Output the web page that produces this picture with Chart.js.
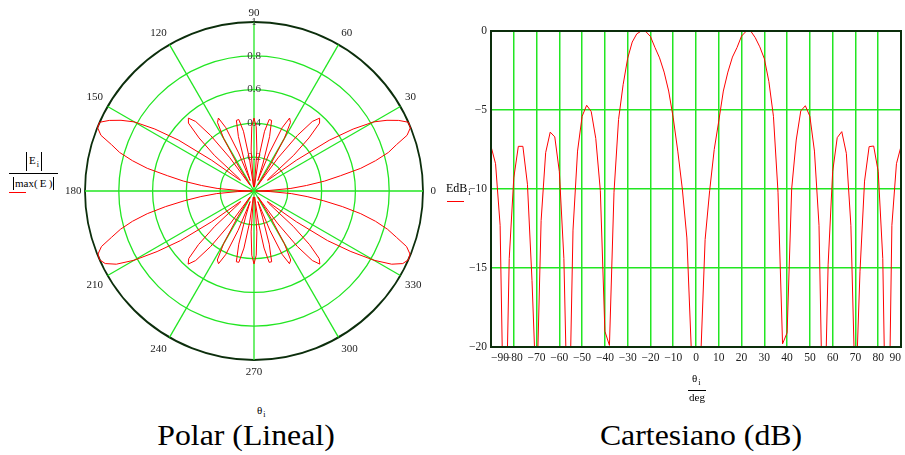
<!DOCTYPE html>
<html>
<head>
<meta charset="utf-8">
<script src="https://cdn.jsdelivr.net/npm/chart.js@4.4.1/dist/chart.umd.min.js"></script>
<style>
  body { margin: 0; width: 905px; height: 455px; background: #fff; position: relative; overflow: hidden;
         font-family: "Liberation Serif", "Times New Roman", serif; color: #000; }
  canvas { position: absolute; }
  #polar { left: 61px; top: 2px; }
  #cart { left: 440px; top: 0; }
  .t { position: absolute; white-space: nowrap; font-size: 11px; line-height: 11px; }
  .t .sub { font-size: 8px; position: relative; top: 3px; margin-left: 1px; }
  .abs { border-left: 1px solid #000; border-right: 1px solid #000; }
  .rule { position: absolute; height: 1px; background: #000; }
  .red { position: absolute; height: 1px; background: #ff0000; }
  .title { position: absolute; width: 320px; text-align: center; font-size: 30px; line-height: 30px; transform: scaleX(1.06); }
</style>
</head>
<body>
<canvas id="polar" width="379" height="379"></canvas>
<canvas id="cart" width="465" height="380"></canvas>

<!-- polar axis label |E_i| / |max(E)| -->
<div class="t abs" style="left:26px;top:152px;height:19px;padding:0 2px;line-height:16px">E<span class="sub">i</span></div>
<div class="rule" style="left:9px;top:173px;width:49px"></div>
<div class="t abs" style="left:13px;top:177px;height:13px;padding:0 1px;line-height:13px">max(&#8201;E&#8201;)</div>
<div class="red" style="left:9px;top:192px;width:17px"></div>
<div class="t" style="left:257px;top:405px">&theta;<span class="sub">i</span></div>

<!-- cartesian axis labels -->
<div class="t" style="left:446px;top:182px;font-size:12px;line-height:12px">EdB<span class="sub">i</span></div>
<div class="red" style="left:447px;top:201px;width:17px"></div>
<div class="t" style="left:692px;top:373px">&theta;<span class="sub">i</span></div>
<div class="rule" style="left:688px;top:390px;width:18px"></div>
<div class="t" style="left:689px;top:392px">deg</div>

<div class="title" style="left:86px;top:420px">Polar (Lineal)</div>
<div class="title" style="left:541px;top:420px">Cartesiano (dB)</div>

<script>
// angles theta_i in degrees (-90..90, step 2)
const thetaDeg = [
  -90, -88, -86, -84, -82, -80, -78, -76, -74, -72,
  -70, -68, -66, -64, -62, -60, -58, -56, -54, -52,
  -50, -48, -46, -44, -42, -40, -38, -36, -34, -32,
  -30, -28, -26, -24, -22, -20, -18, -16, -14, -12,
  -10, -8, -6, -4, -2, 0, 2, 4, 6, 8,
  10, 12, 14, 16, 18, 20, 22, 24, 26, 28,
  30, 32, 34, 36, 38, 40, 42, 44, 46, 48,
  50, 52, 54, 56, 58, 60, 62, 64, 66, 68,
  70, 72, 74, 76, 78, 80, 82, 84, 86, 88,
  90
];

// normalised pattern in dB (values under -20 estimated)
const EdB = [
  -7.3, -8.4, -12.3, -29.0, -14.4, -9.3, -7.3, -7.3, -9.7, -15.8,
  -23.5, -12.0, -7.7, -6.4, -6.7, -8.9, -14.4, -27.5, -12.6, -7.6,
  -5.4, -4.7, -5.1, -6.8, -10.1, -19.0, -19.9, -10.2, -5.6, -3.4,
  -1.73, -0.7, -0.18, 0, -0.04, -0.35, -1.05, -1.7, -2.6, -3.8,
  -5.5, -7.6, -10.0, -13.1, -20.4, -40.0, -21.0, -13.2, -10.1, -7.5,
  -5.7, -3.8, -2.6, -1.65, -1.05, -0.32, -0.02, 0, -0.42, -1.0,
  -1.75, -3.2, -5.4, -10.2, -19.8, -19.1, -10.0, -6.9, -5.06, -4.73,
  -5.4, -7.6, -12.3, -27.6, -14.8, -8.9, -6.75, -6.37, -7.74, -12.3,
  -23.6, -15.2, -9.5, -7.32, -7.28, -8.9, -14.4, -32.0, -12.3, -8.4,
  -7.3
];

const xTicks = [-90, -80, -70, -60, -50, -40, -30, -20, -10, 0, 10, 20, 30, 40, 50, 60, 70, 80, 90];
const yTicks = [-20, -15, -10, -5, 0];
const radialTicks = [0, 0.2, 0.4, 0.6, 0.8, 1];
const polarAngleLabels = ['0', '30', '60', '90', '120', '150', '180', '210', '240', '270', '300', '330'];

const FONT = { family: '"Liberation Serif", "Times New Roman", serif', size: 11.5 };
const GREEN = '#22e622';
const minus = v => (v < 0 ? '\u2212' + Math.abs(v) : String(v));

// polar: |E|/max(E) = 10^(dB/20); radar goes clockwise from the top (90 deg),
// the left half of the plane mirrors the right half (E(180-t) = E(t))
const Elin = EdB.map(d => Math.pow(10, d / 20));
const polarLabels = [];
const polarR = [];
const nHalf = thetaDeg.length - 1; // 90 steps of 2 deg
for (let i = 0; i < 2 * nHalf; i++) {
  const idx = i <= nHalf ? nHalf - i : i - nHalf;
  const phi = i <= nHalf ? thetaDeg[idx] : -180 - thetaDeg[idx];
  polarLabels.push(String(((phi % 360) + 360) % 360));
  polarR.push(Elin[idx]);
}

new Chart(document.getElementById('polar'), {
  type: 'radar',
  data: {
    labels: polarLabels,
    datasets: [{
      data: polarR,
      borderColor: '#ff0000',
      borderWidth: 1,
      pointRadius: 0,
      fill: false,
      tension: 0
    }]
  },
  options: {
    responsive: false,
    animation: false,
    events: [],
    plugins: { legend: { display: false }, tooltip: { enabled: false } },
    scales: {
      r: {
        min: 0,
        max: 1,
        startAngle: 0,
        afterBuildTicks: s => { s.ticks = radialTicks.map(v => ({ value: v })); },
        ticks: {
          showLabelBackdrop: false,
          backdropPadding: 0,
          font: { family: FONT.family, size: 11 },
          color: '#333',
          callback: v => String(v)
        },
        grid: {
          circular: true,
          color: c => (c.tick && c.tick.value === 1 ? '#0c2e0c' : GREEN),
          lineWidth: c => (c.tick && c.tick.value === 1 ? 1.8 : 1.3)
        },
        angleLines: {
          color: GREEN,
          lineWidth: c => (c.label ? 1.3 : 0)
        },
        pointLabels: {
          padding: c => (c.label === '90' ? -3 : c.label === '0' ? 2 : c.label === '180' ? -2 : 0),
          font: { family: FONT.family, size: 11 },
          color: '#222',
          callback: label => (polarAngleLabels.includes(label) ? label : '')
        }
      }
    }
  }
});

const frame = {
  id: 'frame',
  afterDatasetsDraw(chart) {
    const { ctx, chartArea: a } = chart;
    ctx.save();
    ctx.strokeStyle = '#0c2e0c';
    ctx.lineWidth = 2;
    ctx.strokeRect(a.left, a.top, a.right - a.left, a.bottom - a.top);
    ctx.restore();
  }
};

new Chart(document.getElementById('cart'), {
  type: 'scatter',
  data: {
    datasets: [{
      data: thetaDeg.map((t, i) => ({ x: t, y: EdB[i] })),
      showLine: true,
      borderColor: '#ff0000',
      borderWidth: 1,
      pointRadius: 0
    }]
  },
  options: {
    responsive: false,
    animation: false,
    events: [],
    layout: { padding: { top: 31, right: 1, left: 0, bottom: 0 } },
    plugins: { legend: { display: false }, tooltip: { enabled: false } },
    scales: {
      x: {
        type: 'linear',
        min: -90,
        max: 90,
        afterBuildTicks: s => { s.ticks = xTicks.map(v => ({ value: v })); },
        afterFit: s => { s.height = 33; },
        ticks: { align: 'inner', padding: 4, autoSkip: false, maxRotation: 0, font: FONT, color: '#222', callback: minus },
        grid: { color: GREEN, lineWidth: 1.5, drawTicks: false },
        border: { display: false }
      },
      y: {
        min: -20,
        max: 0,
        afterBuildTicks: s => { s.ticks = yTicks.map(v => ({ value: v })); },
        afterFit: s => { s.width = 51; },
        ticks: { padding: 4, font: FONT, color: '#222', callback: minus },
        grid: { color: GREEN, lineWidth: 1.5, drawTicks: false },
        border: { display: false }
      }
    }
  },
  plugins: [frame]
});
</script>
</body>
</html>
